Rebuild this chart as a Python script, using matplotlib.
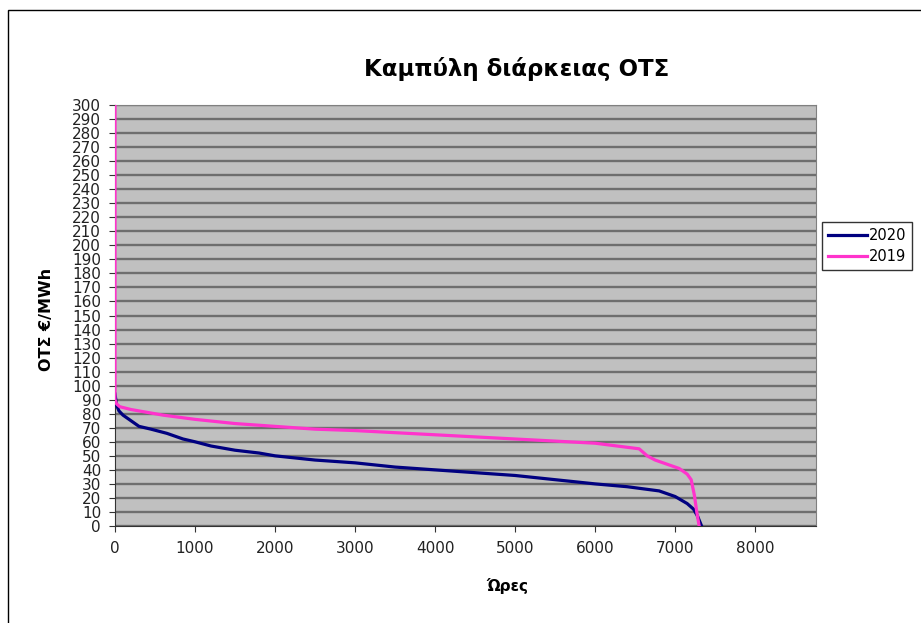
import numpy as np
import matplotlib.pyplot as plt
from matplotlib.patches import Rectangle

plt.rcParams['font.family'] = ['DejaVu Sans']

# duration curve 2020 (hours, price)
hours_2020 = [0, 20, 50, 100, 200, 300, 450, 650, 850, 1000, 1200, 1500, 1800, 2000,
              2500, 3000, 3500, 4000, 4500, 5000, 5500, 6000, 6400, 6800, 7000,
              7150, 7230, 7280, 7330]
price_2020 = [94, 86, 82, 79, 75, 71, 69, 66, 62, 60, 57, 54, 52, 50,
              47, 45, 42, 40, 38, 36, 33, 30, 28, 25, 21,
              16, 12, 7, 0]

# duration curve 2019
hours_2019 = [0, 0, 20, 60, 200, 600, 1000, 1500, 2000, 2500, 3000, 4000, 5000,
              6000, 6550, 6650, 6750, 6900, 7050, 7150, 7200, 7240, 7270, 7300]
price_2019 = [300, 90, 87, 85, 83, 79, 76, 73, 71, 69, 68, 65, 62,
              59, 55, 50, 47, 44, 41, 37, 33, 22, 10, 0]

W, H = 921, 623
fig = plt.figure(figsize=(W / 100, H / 100), dpi=100)
fig.patches.append(Rectangle((8 / W, -0.1), 1.2, 1 - 10 / H + 0.1, transform=fig.transFigure,
                             fill=False, edgecolor='black', linewidth=1))

ax = fig.add_axes([115 / W, 1 - 526 / H, (816 - 115) / W, (526 - 105) / H])
ax.set_facecolor('#c0c0c0')

ax.plot(hours_2020, price_2020, color='#000080', linewidth=2.3, label='2020', zorder=3)
ax.plot(hours_2019, price_2019, color='#ff33cc', linewidth=2.3, label='2019', zorder=3)

ax.set_xlim(0, 8760)
ax.set_ylim(0, 300)
ax.set_xticks(np.arange(0, 8001, 1000))
ax.set_yticks(np.arange(0, 301, 10))
ax.yaxis.grid(True, color='#6e6e6e', linewidth=1.7)
ax.set_axisbelow(True)
ax.tick_params(axis='both', labelsize=11, direction='out', length=4, color='#333333',
               labelcolor='#222222')
ax.tick_params(axis='x', pad=7)
ax.tick_params(axis='y', pad=6)

for side in ['top', 'right']:
    ax.spines[side].set_color('#808080')
ax.spines['left'].set_color('#333333')
ax.spines['bottom'].set_color('#333333')

fig.text(517 / W, 1 - 69 / H, 'Καμπύλη διάρκειας ΟΤΣ', ha='center', va='center',
         fontsize=16.5, fontweight='bold')
fig.text(507 / W, 1 - 586 / H, 'Ώρες', ha='center', va='center', fontsize=11, fontweight='bold')
fig.text(46 / W, 1 - 319 / H, 'ΟΤΣ €/MWh', ha='center', va='center', fontsize=11.5,
         fontweight='bold', rotation=90)

fig.legend(loc='upper left', bbox_to_anchor=(822 / W, 1 - 222 / H), fontsize=10.5,
           frameon=True, fancybox=False, edgecolor='black', handlelength=2.7,
           handletextpad=0.1, borderpad=0.4, labelspacing=0.45, borderaxespad=0)

plt.savefig('out.png', dpi=100)
